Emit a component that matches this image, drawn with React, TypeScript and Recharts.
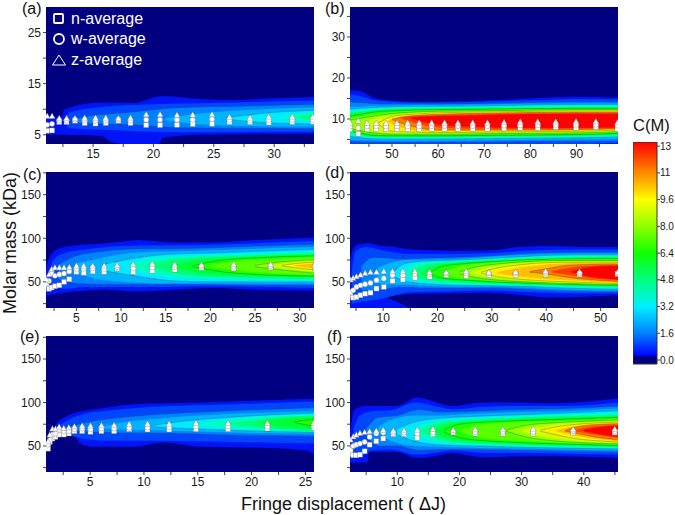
import React from 'react';
import { Area, Bar, BarChart, ComposedChart, Scatter, XAxis, YAxis } from 'recharts';

const FONT = '"Liberation Sans", Arial, sans-serif';

// contour levels of C(M) and the fill above each level
const levels = [0.3, 0.8, 1.6, 2.4, 3.2, 4, 4.8, 5.6, 6.4, 7.2, 8, 8.8, 9.6, 10.4, 11.2, 12, 12.8];
const levelFills = [
  'rgb(0,20,245)', 'rgb(0,70,255)', 'rgb(0,130,255)', 'rgb(0,180,255)', 'rgb(0,235,255)', 'rgb(0,255,190)',
  'rgb(0,255,120)', 'rgb(0,255,50)', 'rgb(30,255,0)', 'rgb(90,255,0)', 'rgb(150,255,0)', 'rgb(210,255,0)',
  'rgb(255,240,0)', 'rgb(255,190,0)', 'rgb(255,120,0)', 'rgb(255,60,0)', 'rgb(255,0,0)',
];
const NAVY = '#000080';

const barTicks = [0, 1.6, 3.2, 4.8, 6.4, 8, 9.6, 11.2, 12.8];
const barStops: [number, string][] = [
  [13.05, '#ff0000'], [11.2, '#ff8a00'], [9.6, '#ffff00'], [8, '#90ff00'], [6.4, '#10ff00'], [4.8, '#00ff80'],
  [3.2, '#00f0ff'], [1.6, '#0080ff'], [0.25, '#0000ff'], [0.24, NAVY], [-0.24, NAVY],
];

// [level index, upper edge, lower edge, x positions]
type Contour = [number, number[], number[], number[]];

// (a)
const aX = [11.2, 11.6, 12.2, 12.8, 13.5, 14.3, 15.2, 16.05, 17.1, 18.1, 19.4, 20.55, 21.95, 23.25, 24.85, 26.3, 28, 29.55, 31.5, 33.2];
const aZ = [8.6, 8.6, 8.15, 8.15, 8.15, 8.25, 8.25, 8.25, 8.15, 8.25, 8.9, 8.9, 8.8, 8.85, 8.9, 8.4, 8.25, 8.45, 8.45, 8.45];
const aW = [6.95, 7.15, 7.8, 7.8, 7.95, 7.8, 7.75, 7.8, 7.95, 7.8, 7.95, 7.95, 7.95, 7.95, 8.05, 7.95, 7.85, 7.95, 7.95, 7.95];
const aN = [5.8, 5.85, 7.5, 7.5, 7.75, 7.3, 7.2, 7.3, 7.75, 7.3, 6.9, 6.9, 6.95, 7.1, 7.15, 7.5, 7.5, 7.4, 7.5, 7.55];
const aContours: Contour[] = [
  [0, [8.5, 8.6, 9.9, 11.3, 11.3, 11.2, 12.5, 12.6, 12, 11.8, 12.1, 12.4], [5, 5, 5, 4.8, 3.5, 3, 3, 4.4, 5, 5.1, 5.2, 5.2], [11.1, 12.4, 12.6, 15.6, 16.6, 18.3, 20.4, 20.8, 23.8, 26.6, 29.4, 33.4]],
  [1, [8.2, 9.3, 10.5, 11, 11.2, 11.5, 11.7], [8, 6.3, 6, 5.6, 5.5, 5.6, 5.6], [12.7, 13, 16, 20, 25, 30, 33.4]],
  [2, [8, 8.4, 9.4, 10.3, 10.6, 11], [7.8, 7.2, 7, 6.4, 6.3, 6.2], [13.5, 14, 18, 22, 27, 33.4]],
  [3, [8.2, 9.2, 9.9, 10.4], [7.9, 7, 6.7, 6.6], [21, 24, 28, 33.4]],
  [4, [8.3, 9.2, 9.8], [8.1, 7.4, 7.1], [26, 29, 33.4]],
  [5, [8.5, 9.1, 9.4], [8.3, 7.9, 7.6], [30.5, 32, 33.4]],
  [6, [8.6, 9.1], [8.3, 7.9], [32, 33.4]],
];

// (b)
const bX = [40.9, 42.7, 44.6, 46.6, 48.7, 51.1, 53.4, 55.9, 58.6, 61.4, 64.3, 67.5, 70.7, 74.3, 77.8, 81.6, 85.5, 89.9, 94.2, 98.9];
const bZ = [9, 9.45, 8.9, 8.9, 8.9, 8.9, 9, 9, 9, 9, 9, 9, 9, 9.1, 9.25, 9.25, 9.25, 9.3, 9.3, 9.05];
const bW = [8.2, 7.8, 8.2, 8.2, 8.2, 8.2, 8.2, 8.2, 8.25, 8.3, 8.3, 8.3, 8.3, 8.4, 8.5, 8.5, 8.6, 8.6, 8.6, 8.4];
const bN = [7.5, 6.4, 7.5, 7.5, 7.5, 7.5, 7.5, 7.5, 7.6, 7.6, 7.6, 7.6, 7.6, 7.7, 7.8, 7.8, 8, 7.9, 8, 7.6];
const bGrid = [40.8, 43, 46, 50, 55, 60, 70, 80, 90, 99.2];
const bContours: Contour[] = [
  [0, [17, 16.8, 15.2, 14.5, 14.2, 14.2, 14.5, 15, 15.4, 15.2], [3, 3, 3, 3, 3, 3, 3, 3, 3, 3], bGrid],
  [1, [16, 15.6, 14.6, 14.2, 14, 14, 14.2, 14.5, 14.9, 14.8], [3.5, 3.5, 3.5, 3.5, 3.5, 3.5, 3.5, 3.6, 3.8, 4.2], bGrid],
  [2, [14.2, 14, 13.8, 13.7, 13.7, 13.7, 13.8, 14, 14.2, 14.2], [4.6, 4.4, 4.3, 4.3, 4.3, 4.4, 4.4, 4.5, 4.5, 4.6], bGrid],
  [3, [13, 13, 13.2, 13.3, 13.4, 13.4, 13.5, 13.7, 13.8, 13.8], [5, 4.9, 4.8, 4.7, 4.7, 4.7, 4.8, 4.9, 5, 5.1], bGrid],
  [4, [12.4, 12.6, 12.8, 13, 13.1, 13.1, 13.2, 13.4, 13.5, 13.5], [5.8, 5.4, 5.2, 5.1, 5.1, 5.1, 5.2, 5.3, 5.4, 5.6], bGrid],
  [5, [12, 12.2, 12.5, 12.7, 12.8, 12.9, 13, 13.1, 13.2, 13.2], [6.2, 5.7, 5.4, 5.3, 5.3, 5.3, 5.4, 5.5, 5.6, 5.9], bGrid],
  [6, [11.6, 11.8, 12.2, 12.5, 12.6, 12.7, 12.8, 12.9, 13, 13], [6.5, 6, 5.6, 5.5, 5.5, 5.5, 5.6, 5.7, 5.8, 6.1], bGrid],
  [7, [11.2, 11.5, 12, 12.3, 12.4, 12.5, 12.6, 12.7, 12.8, 12.8], [6.8, 6.3, 5.8, 5.7, 5.7, 5.7, 5.8, 5.9, 6, 6.3], bGrid],
  [8, [10.7, 11.1, 11.7, 12, 12.2, 12.3, 12.4, 12.5, 12.6, 12.6], [7.1, 6.6, 6, 5.9, 5.9, 5.9, 6, 6.1, 6.2, 6.5], bGrid],
  [9, [10.2, 10.6, 11.2, 11.7, 12, 12.1, 12.2, 12.3, 12.4, 12.4], [7.4, 6.9, 6.3, 6.1, 6.1, 6.1, 6.2, 6.3, 6.4, 6.7], bGrid],
  [10, [9.7, 10.1, 10.7, 11.3, 11.7, 11.9, 12, 12.15, 12.25, 12.25], [7.7, 7.2, 6.6, 6.3, 6.3, 6.3, 6.4, 6.5, 6.6, 6.9], bGrid],
  [11, [8.6, 10.2, 10.9, 11.4, 11.7, 11.85, 12, 12.1, 12.1], [8.4, 7, 6.6, 6.5, 6.5, 6.6, 6.7, 6.8, 7.1], [44, 46, 50, 55, 60, 70, 80, 90, 99.2]],
  [12, [9, 10.6, 11.2, 11.5, 11.7, 11.85, 11.95, 11.95], [8.8, 7, 6.8, 6.7, 6.8, 6.9, 7, 7.3], [47, 50, 55, 60, 70, 80, 90, 99.2]],
  [13, [9.5, 10.6, 11, 11.3, 11.55, 11.7, 11.8, 11.8], [9.3, 7.9, 7.2, 7, 7, 7.1, 7.2, 7.5], [49, 52, 55, 60, 70, 80, 90, 99.2]],
  [14, [10, 10.6, 10.9, 11.1, 11.4, 11.55, 11.65, 11.65], [9.8, 8.6, 7.8, 7.3, 7.3, 7.3, 7.4, 7.6], [50, 53, 56, 60, 70, 80, 90, 99.2]],
  [15, [10.4, 10.7, 10.9, 11.2, 11.4, 11.5, 11.5], [10.2, 9, 8, 7.6, 7.5, 7.6, 7.7], [52, 55, 60, 70, 80, 90, 99.2]],
  [16, [10.4, 10.7, 11, 11.2, 11.3, 11.3], [10.2, 8.6, 8, 7.8, 7.8, 7.9], [54, 60, 70, 80, 90, 99.2]],
];

// (c)
const cX = [1.67, 1.93, 2.23, 2.6, 3.09, 3.62, 4.21, 5, 5.82, 6.83, 8.11, 9.57, 11.36, 13.5, 16, 19, 22.6, 26.74, 31.7];
const cZ = [52, 58, 64, 66, 66, 66, 66.5, 68, 68, 68, 68, 68.5, 69.6, 70.4, 69.2, 69.2, 69.6, 69.6, 69.2];
const cW = [49, 51, 59.6, 57, 58.5, 59.6, 62, 65, 65, 65.4, 65, 67, 65.4, 66.5, 67, 67.7, 67.7, 68, 67.7];
const cN = [46, 42, 43.5, 45, 46, 50, 53, 61.5, 60.4, 62, 61.5, 65.4, 61.5, 62.7, 64, 66, 65.4, 66.5, 66.5];
const cContours: Contour[] = [
  [0, [60, 78, 88, 92, 94, 98, 95, 95, 98, 101], [35, 35, 37, 39, 41, 39, 41, 43, 41, 40], [1.5, 2, 3, 5, 8, 12, 16, 20, 25, 31.8]],
  [1, [56, 76, 84, 87, 91, 92, 92, 93, 95, 97], [54, 44, 42, 44, 44, 44, 45, 45, 44, 43], [1.8, 2.5, 4, 6, 10, 14, 18, 22, 27, 31.8]],
  [2, [70, 80, 85, 88, 88, 89, 91, 93], [53, 48, 47, 47, 47, 47, 46, 46], [3, 5, 8, 12, 16, 20, 25, 31.8]],
  [3, [71, 78, 84, 85, 86, 88, 90], [60, 52, 49, 48, 48, 48, 48], [5, 8, 12, 16, 20, 25, 31.8]],
  [4, [70, 78, 82, 83, 85, 87.5], [63, 56, 51, 50, 50, 50], [8, 12, 16, 20, 25, 31.8]],
  [5, [70, 78, 80, 81, 83, 85], [66, 58, 54, 53, 52, 52], [11, 14, 18, 22, 27, 31.8]],
  [6, [70, 76, 78.5, 80, 81.5, 83], [67, 60, 56, 55, 54, 53], [13, 16, 19, 23, 27, 31.8]],
  [7, [69, 75.5, 78, 80, 81.5], [67, 60, 57, 56, 55], [15.5, 19, 23, 27, 31.8]],
  [8, [68.5, 74.5, 77.5, 80], [67.5, 62, 58.5, 56.5], [18, 21, 25, 31.8]],
  [9, [69, 73.5, 76, 78], [67, 63, 60, 58], [20, 23, 27, 31.8]],
  [10, [69, 73, 75.5], [67.5, 63.5, 60], [25, 28, 31.8]],
  [11, [69, 72, 74], [68, 64.5, 61.5], [26.5, 29, 31.8]],
  [12, [69, 71.5, 72.5], [68, 65.5, 63.5], [28, 30, 31.8]],
  [13, [69, 71], [68, 65], [29.5, 31.8]],
];

// (d)
const dX = [3.99, 4.48, 5.09, 5.83, 6.69, 7.67, 8.77, 10.12, 11.72, 13.62, 15.83, 18.53, 21.6, 25.28, 29.45, 34.36, 39.88, 46.13, 53.13];
const dZ = [52, 53.9, 55.8, 57.7, 59.7, 60.8, 60.8, 61.6, 61.6, 61.6, 61.6, 60.8, 60.4, 61.6, 60.4, 60.8, 61.6, 61.2, 60.4];
const dW = [38.4, 40.3, 44.2, 46.1, 47.3, 48.8, 51.9, 53.9, 57.7, 57.7, 58.9, 58.9, 59.7, 59.7, 59.7, 59.7, 60.4, 59.7, 59.7];
const dN = [34.6, 31.9, 32.6, 34.6, 36.5, 37.6, 42.3, 44.2, 51.2, 52.7, 54.6, 55.8, 57.7, 56.9, 57.7, 57.7, 58.5, 58.5, 58.9];
const dContours: Contour[] = [
  [0, [70, 88, 93, 94.4, 91, 91, 87, 86, 86, 90, 91, 90, 90], [17, 17, 17, 17, 17, 32.6, 36, 37, 37.6, 35, 32, 33, 34.6], [3.8, 4.5, 5.5, 7.5, 9.9, 10, 15.5, 23, 29, 35, 41, 47, 53.3]],
  [0, [32.6, 26, 19], [17, 17, 17], [9.9, 13, 15]],
  [1, [60, 86, 90, 86, 82, 82, 83, 86, 87, 87], [25, 26, 28, 31, 38, 39, 40, 38, 37, 37], [4.2, 5, 7, 10, 15, 22, 30, 37, 45, 53.3]],
  [2, [68, 78, 78, 76, 77, 78, 80, 83, 84, 84], [40, 40, 41, 44, 43, 43, 43, 41, 39, 38.5], [6, 8, 10, 13, 17, 22, 30, 37, 45, 53.3]],
  [3, [66, 71, 75, 75.5, 76.5, 79, 81, 82.5, 82.5], [49, 47, 47, 45.5, 44.5, 44.5, 43, 41, 40], [9, 11, 14, 18, 24, 30, 37, 45, 53.3]],
  [4, [62, 71, 74, 75, 77, 79.5, 81, 81], [56, 51, 47.5, 46, 45.5, 44.5, 42.5, 41.5], [12, 14, 18, 24, 30, 37, 45, 53.3]],
  [5, [62, 70, 73, 75, 77, 78.5, 80, 80], [58, 52, 49, 47, 46.5, 45.5, 44, 43], [14, 16, 20, 26, 32, 38, 45, 53.3]],
  [6, [62, 70, 72.5, 74.5, 76.5, 78, 78.5, 79], [59, 52, 50, 48, 47, 46, 45, 44], [15, 18, 22, 28, 34, 40, 46, 53.3]],
  [7, [61, 69, 72, 74, 76, 77, 77.5, 78], [59, 53, 51, 49, 47.5, 46.5, 45.5, 45], [17, 20, 24, 30, 36, 42, 48, 53.3]],
  [8, [60.5, 68, 71, 73, 75, 76, 76.5, 76.5], [59.5, 54, 52, 50, 48.5, 47.5, 46.5, 46], [18.6, 21, 25, 30, 36, 42, 48, 53.3]],
  [9, [61, 68, 71, 73.5, 75, 75.5, 75.5], [59.5, 54, 52, 50, 48.5, 47.5, 46.5], [21, 24, 28, 33, 39, 45, 53.3]],
  [10, [61, 67, 70.5, 73, 74.5, 74.5, 74.5], [59.5, 55, 52, 50, 48.5, 47.5, 47], [24, 27, 31, 36, 42, 48, 53.3]],
  [11, [61, 66.5, 70, 72.5, 73.5, 73.5], [60, 55.5, 53, 50.5, 49, 47.5], [26, 29, 33, 38, 44, 53.3]],
  [12, [61, 66, 69.5, 72, 72.5, 72.5], [60, 56, 53, 51, 49.5, 48], [28, 31, 35, 40, 46, 53.3]],
  [13, [61, 65, 68.5, 71, 71.5, 71.5], [60, 57, 54.5, 52, 50.5, 49], [31, 34, 38, 43, 48, 53.3]],
  [14, [62, 65, 69, 70, 70.5], [61, 59, 55, 52.5, 50.5], [37, 40, 44, 48, 53.3]],
  [15, [62, 66, 68.5, 69.5], [61, 58, 54, 52], [41, 44, 48, 53.3]],
  [16, [62, 66, 68, 68.5], [61, 57, 54, 52.5], [44.5, 47, 50, 53.3]],
];

// (e)
const eX = [1.09, 1.25, 1.5, 1.78, 2.12, 2.55, 3.02, 3.54, 4.26, 5.03, 6.05, 7.23, 8.63, 10.33, 12.35, 14.83, 17.81, 21.47, 25.78];
const eZ = [54.6, 62.4, 69.3, 69.3, 71.6, 70, 70.8, 72, 72.8, 72.8, 73.2, 73.6, 74.7, 75.1, 75.1, 75.9, 75.9, 75.9, 75.9];
const eW = [51.5, 56.6, 63.1, 64.3, 68.1, 67, 67, 69.3, 70.1, 69.3, 70.1, 70.1, 70.8, 71.2, 71.6, 72.4, 72.4, 72.4, 73.2];
const eN = [46.9, 54.6, 58.5, 60.4, 63.1, 63.1, 64.3, 67, 67, 66.2, 67, 67, 69.3, 68.9, 68.9, 69.3, 69.3, 70.1, 70.8];
const eContours: Contour[] = [
  [0, [48, 60, 76, 82, 88.6, 89.5, 92, 98, 99, 100, 102.5, 104, 104], [46, 50, 62, 63, 60, 53, 49, 49, 54, 49, 47.7, 45, 40], [0.8, 1.3, 1.9, 2.5, 3.7, 4, 5.3, 9, 11.8, 15.2, 21.4, 25, 25.9]],
  [1, [72, 80, 87, 91, 95, 97, 99, 101], [68, 63, 58, 56, 56, 55, 54, 53], [2, 3, 4.5, 7, 11, 16, 21, 25.9]],
  [2, [72, 78, 83, 87, 90, 92, 94], [68, 66, 65, 64.5, 63, 62, 61], [3, 5, 8, 12, 17, 21, 25.9]],
  [3, [72, 77, 81, 85, 88, 90], [70, 69, 68, 66.5, 65, 64], [6, 8, 11, 15, 20, 25.9]],
  [4, [74, 79, 83, 86, 88], [72, 70, 68, 66.5, 65.5], [11, 14, 18, 22, 25.9]],
  [5, [75, 81, 84, 86], [74, 70, 68, 66.5], [15, 18, 21, 25.9]],
  [6, [76, 81, 83.5, 85], [75, 71, 69, 67], [18, 21, 23, 25.9]],
  [7, [77, 81.5, 84], [76, 72, 68.5], [20.5, 23, 25.9]],
  [8, [78, 81], [77, 72], [24, 25.9]],
];

// (f)
const fX = [2.07, 2.5, 2.93, 3.41, 4, 4.75, 5.55, 6.63, 7.75, 9.36, 11.07, 13.21, 15.73, 19, 22.53, 26.98, 31.85, 38.28, 44.98];
const fZ = [52.7, 56.6, 60.4, 62.4, 64.3, 65.4, 66.2, 67, 67.8, 67, 67.4, 68.1, 68.9, 67.8, 68.5, 68.5, 69.3, 68.5, 68.9];
const fW = [48.8, 45, 50, 51.5, 52.7, 54.6, 60.4, 64.3, 65.4, 65.4, 65.4, 64.3, 65.4, 66.2, 66.2, 66.2, 66.2, 67, 67];
const fN = [46.9, 41, 39.2, 39.2, 40, 43.8, 51.5, 55.4, 58.5, 63.5, 63.5, 59.3, 63.5, 65.4, 64.3, 64.3, 64.3, 65.4, 65.4];
const fContours: Contour[] = [
  [0, [60, 80, 91, 96, 96, 96, 96, 96, 105.6, 101, 96, 100, 100, 99, 105], [31, 31, 31, 31, 31, 43, 43, 43, 36, 38, 42, 37, 38, 38, 36], [2.3, 2.7, 3, 4.9, 5.2, 5.5, 7.8, 10, 13.2, 15.9, 18.6, 24, 29.3, 34.6, 45.6]],
  [1, [70, 85, 90, 91, 100, 96, 92, 95, 96, 96, 100], [40, 38, 45, 46, 40, 42, 45, 42, 42, 41, 40], [3, 4, 6, 9, 13, 16, 19, 24, 30, 37, 45.6]],
  [2, [70, 83, 85, 92, 89, 90, 92, 93, 96], [62, 50, 50, 45, 46, 46, 45, 44, 43], [5, 7, 10, 13.5, 17, 22, 30, 37, 45.6]],
  [3, [72, 80, 85, 85, 87, 89, 90, 93], [65, 56, 50, 49, 48, 47, 46, 45], [7, 9, 13, 17, 22, 30, 37, 45.6]],
  [4, [70, 78, 82, 84, 86, 88, 90.5], [63, 55, 51, 50, 48.5, 47.5, 46.5], [10, 13, 17, 22, 30, 37, 45.6]],
  [5, [68, 76, 80, 82, 84.5, 86, 88], [65, 57, 53, 51, 49.5, 48.5, 47.5], [12.5, 15, 18, 23, 30, 37, 45.6]],
  [6, [68, 76, 79, 81, 83, 84.5, 86], [66, 58, 54, 52, 50.5, 49.5, 48.5], [14, 16.5, 20, 25, 31, 38, 45.6]],
  [7, [68, 75, 78, 80, 82, 83, 84.5], [66, 59, 55, 53, 51.5, 50.5, 49.5], [16, 18, 22, 27, 33, 39, 45.6]],
  [8, [68, 75, 77.5, 79, 80.5, 81.5, 83], [66, 59.5, 56, 54, 52.5, 51.5, 50.5], [17.5, 20, 24, 29, 35, 40, 45.6]],
  [9, [68, 74, 76.5, 78, 79, 80, 81.5], [66.5, 60, 57, 55, 53.5, 52.5, 51.5], [20, 23, 27, 32, 37, 41, 45.6]],
  [10, [68, 74, 76.5, 78, 79, 80], [67, 60, 56, 54, 53, 52.5], [27.5, 31, 35, 39, 42, 45.6]],
  [11, [68, 73, 76, 77, 78.5], [67, 61, 57, 55, 53.5], [30, 33, 37, 40, 45.6]],
  [12, [68, 72.5, 75, 76.5, 77.5], [67, 62, 58, 56, 54.5], [33, 36, 39, 42, 45.6]],
  [13, [68, 72, 75, 76.5], [67, 63, 59, 55.5], [35.5, 38, 41, 45.6]],
  [14, [68, 72, 74.5, 75.5], [67, 64, 60, 57], [37, 39, 42, 45.6]],
  [15, [68, 72, 74.5], [67, 64, 59], [38.5, 41, 45.6]],
  [16, [68.5, 72, 73.5], [67, 63, 60.5], [40, 43, 45.6]],
];

const legendItems = ['n-average', 'w-average', 'z-average'];

const SquareMark = (p: any) => <rect x={p.cx - 2.5} y={p.cy - 2.5} width={5} height={5} fill="#fff" stroke="#777" strokeWidth={0.4} />;
const CircleMark = (p: any) => <circle cx={p.cx} cy={p.cy} r={2.6} fill="#fff" stroke="#777" strokeWidth={0.4} />;
const TriangleMark = (p: any) => (
  <polygon points={`${p.cx},${p.cy - 3.4} ${p.cx + 3},${p.cy + 2} ${p.cx - 3},${p.cy + 2}`} fill="#fff" stroke="#777" strokeWidth={0.4} />
);

const toPoints = (xs: number[], ys: number[]) => xs.map((x, i) => ({ x, y: ys[i] }));
const inLabels = (labels: number[]) => (v: number) => (labels.includes(v) ? String(v) : '');
const lineLevels = [2, 4, 8, 10, 12, 14];

interface PanelProps {
  name: string; left: number; top: number; height: number;
  xDomain: number[]; yDomain: number[];
  xTicks: number[]; xLabels: number[]; yTicks: number[]; yLabels: number[];
  contours: Contour[]; xs: number[]; z: number[]; w: number[]; n: number[];
}

const Panel: React.FC<PanelProps> = ({ name, left, top, height, xDomain, yDomain, xTicks, xLabels, yTicks, yLabels, contours, xs, z, w, n }) => {
  const tickStyle = { fontSize: 12, fontFamily: FONT, fill: '#1a1a1a' };
  const background = [
    { x: xDomain[0], band: [yDomain[0], yDomain[1]] },
    { x: xDomain[1], band: [yDomain[0], yDomain[1]] },
  ];
  return (
    <div style={{ position: 'absolute', left: left - 46, top: top - 7 }}>
      <ComposedChart width={318} height={height + 7 + 24} margin={{ top: 7, right: 4, left: 0, bottom: 0 }}>
        <XAxis dataKey="x" type="number" domain={xDomain} ticks={xTicks} interval={0} allowDataOverflow tickSize={3} tickMargin={2} height={24}
          axisLine={false} tick={tickStyle} tickLine={{ stroke: '#444' }} tickFormatter={inLabels(xLabels)} />
        <YAxis dataKey="y" type="number" domain={yDomain} ticks={yTicks} interval={0} allowDataOverflow tickSize={3} tickMargin={2} width={46}
          axisLine={false} tick={tickStyle} tickLine={{ stroke: '#444' }} tickFormatter={inLabels(yLabels)} />
        <Area data={background} dataKey="band" type="linear" fill={NAVY} fillOpacity={1} stroke="none" dot={false} activeDot={false} isAnimationActive={false} />
        {contours.map(([lvl, hi, lo, cx], i) => (
          <Area key={name + i} data={cx.map((x, j) => ({ x, band: [lo[j], hi[j]] }))} dataKey="band" type="monotone"
            fill={levelFills[lvl]} fillOpacity={1}
            stroke={lineLevels.includes(lvl) ? 'rgba(0,50,50,0.4)' : 'none'} strokeWidth={0.7}
            style={{ filter: 'blur(0.6px)' }}
            dot={false} activeDot={false} isAnimationActive={false} />
        ))}
        <Scatter data={toPoints(xs, n)} shape={SquareMark} isAnimationActive={false} />
        <Scatter data={toPoints(xs, w)} shape={CircleMark} isAnimationActive={false} />
        <Scatter data={toPoints(xs, z)} shape={TriangleMark} isAnimationActive={false} />
      </ComposedChart>
    </div>
  );
};

const Text: React.FC<{ x: number; y: number; size: number; color?: string; children: React.ReactNode }> = ({ x, y, size, color = '#111', children }) => (
  <div style={{ position: 'absolute', left: x, top: y, fontFamily: FONT, fontSize: size, lineHeight: 1, color, whiteSpace: 'nowrap' }}>{children}</div>
);

const ColorBar = () => {
  const range = 13.05 + 0.24;
  return (
    <div style={{ position: 'absolute', left: 633, top: 142 }}>
      <BarChart width={42} height={230} data={[{ k: 'c', v: [-0.24, 13.05] }]} margin={{ top: 0, right: 0, left: 0, bottom: 8 }} barCategoryGap={0}>
        <defs>
          <linearGradient id="cmGrad" x1="0" y1="0" x2="0" y2="1">
            {barStops.map(([v, c]) => <stop key={v} offset={(13.05 - v) / range} stopColor={c} />)}
          </linearGradient>
        </defs>
        <XAxis dataKey="k" hide />
        <YAxis orientation="right" type="number" domain={[-0.24, 13.05]} ticks={barTicks} interval={0} width={18} axisLine={false} tickSize={3} tickMargin={0}
          tick={{ fontSize: 10, fontFamily: FONT, fill: '#1a1a1a' }} tickLine={{ stroke: '#444' }}
          tickFormatter={(v: number) => (v > 10 ? String(Math.round(v)) : v.toFixed(1))} />
        <Bar dataKey="v" fill="url(#cmGrad)" stroke="#333" strokeWidth={1} isAnimationActive={false} />
      </BarChart>
    </div>
  );
};

export default function App() {
  return (
    <div style={{ position: 'absolute', left: 0, top: 0, width: 675, height: 515, background: '#fff', overflow: 'hidden' }}>
      <Panel name="a" left={46} top={7} height={137} xDomain={[11.1, 33.3]} yDomain={[3.2, 30]}
        xTicks={[12.5, 15, 17.5, 20, 22.5, 25, 27.5, 30, 32.5]} xLabels={[15, 20, 25, 30]} yTicks={[5, 10, 15, 20, 25]} yLabels={[5, 15, 25]}
        contours={aContours} xs={aX} z={aZ} w={aW} n={aN} />
      <Panel name="b" left={350} top={7} height={137} xDomain={[40.9, 99]} yDomain={[3.9, 37.3]}
        xTicks={[45, 50, 55, 60, 65, 70, 75, 80, 85, 90, 95]} xLabels={[50, 60, 70, 80, 90]} yTicks={[5, 10, 15, 20, 25, 30, 35]} yLabels={[10, 20, 30]}
        contours={bContours} xs={bX} z={bZ} w={bW} n={bN} />
      <Panel name="c" left={46} top={172} height={136} xDomain={[1.6, 31.6]} yDomain={[20, 176]}
        xTicks={[2.5, 5, 7.5, 10, 12.5, 15, 17.5, 20, 22.5, 25, 27.5, 30]} xLabels={[5, 10, 15, 20, 25, 30]} yTicks={[25, 50, 75, 100, 125, 150, 175]} yLabels={[50, 100, 150]}
        contours={cContours} xs={cX} z={cZ} w={cW} n={cN} />
      <Panel name="d" left={350} top={172} height={136} xDomain={[3.9, 53.2]} yDomain={[20, 176]}
        xTicks={[5, 10, 15, 20, 25, 30, 35, 40, 45, 50]} xLabels={[10, 20, 30, 40, 50]} yTicks={[25, 50, 75, 100, 125, 150, 175]} yLabels={[50, 100, 150]}
        contours={dContours} xs={dX} z={dZ} w={dW} n={dN} />
      <Panel name="e" left={46} top={336} height={136} xDomain={[0.9, 25.8]} yDomain={[20, 176.5]}
        xTicks={[2.5, 5, 7.5, 10, 12.5, 15, 17.5, 20, 22.5, 25]} xLabels={[5, 10, 15, 20, 25]} yTicks={[25, 50, 75, 100, 125, 150, 175]} yLabels={[50, 100, 150]}
        contours={eContours} xs={eX} z={eZ} w={eW} n={eN} />
      <Panel name="f" left={350} top={336} height={136} xDomain={[2.4, 45.5]} yDomain={[20, 176.5]}
        xTicks={[5, 10, 15, 20, 25, 30, 35, 40, 45]} xLabels={[10, 20, 30, 40]} yTicks={[25, 50, 75, 100, 125, 150, 175]} yLabels={[50, 100, 150]}
        contours={fContours} xs={fX} z={fZ} w={fW} n={fN} />
      <ColorBar />

      <Text x={22} y={1} size={16}>(a)</Text>
      <Text x={325} y={1} size={16}>(b)</Text>
      <Text x={23} y={167} size={16}>(c)</Text>
      <Text x={325} y={165} size={16}>(d)</Text>
      <Text x={20} y={329} size={16}>(e)</Text>
      <Text x={327} y={329} size={16}>(f)</Text>
      <Text x={633} y={117} size={16.5}>C(M)</Text>
      <Text x={241} y={495} size={18}>Fringe displacement ( ΔJ)</Text>
      <div style={{ position: 'absolute', left: 10, top: 243, width: 0, height: 0 }}>
        <div style={{ position: 'absolute', transform: 'translate(-50%,-50%) rotate(-90deg)', fontFamily: FONT, fontSize: 18, color: '#111', whiteSpace: 'nowrap' }}>Molar mass (kDa)</div>
      </div>

      {legendItems.map((label, i) => (
        <Text key={label} x={71} y={[11, 31, 52][i]} size={16} color="#fff">{label}</Text>
      ))}
      <svg width={24} height={60} style={{ position: 'absolute', left: 50, top: 10 }}>
        <rect x={4} y={4} width={9} height={9} rx={1} fill="none" stroke="#fff" strokeWidth={1.8} />
        <circle cx={9} cy={29} r={5} fill="#000080" stroke="#fff" strokeWidth={1.8} />
        <polygon points="9,45 15.5,55 2.5,55" fill="none" stroke="#fff" strokeWidth={1} />
      </svg>
    </div>
  );
}
